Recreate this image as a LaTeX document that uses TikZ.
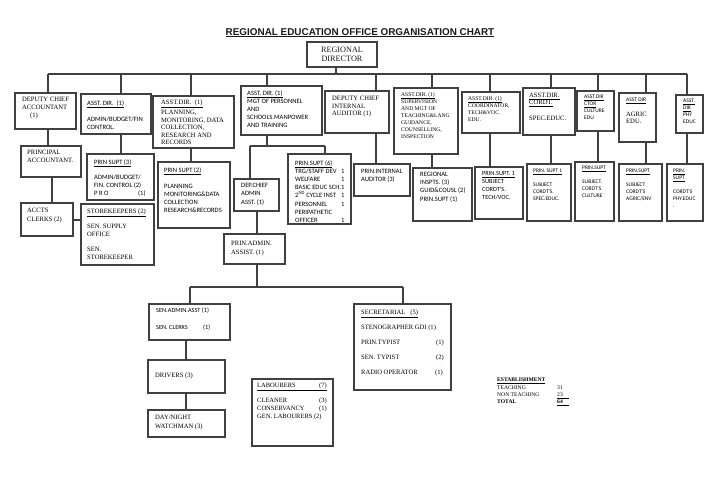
\documentclass[tikz,border=0pt]{standalone}
\usepackage{fontspec}
\setmainfont{Liberation Serif}
\newfontfamily\carl{Carlito}
\newfontfamily\arl{Liberation Sans}
\usetikzlibrary{fit}
\newcommand\bxn[5]{\node[bx, fit={(#2,#3)(#4,#5)}] (#1) {};}
\begin{document}
\begin{tikzpicture}[x=1pt,y=-1pt,
  bx/.style={draw=black!75, line width=1.1pt, inner sep=0pt},
  ln/.style={draw=black!75, line width=1.1pt},
  tx/.style={inner sep=0pt, anchor=north west, align=left, text=black},
  sf/.style={tx, font=\carl\fontsize{6.6}{8.2}\selectfont},
  sfs/.style={tx, font=\carl\fontsize{5.5}{7}\selectfont},
  rm/.style={tx, font=\fontsize{6.6}{7.6}\selectfont},
  rms/.style={tx, font=\fontsize{5.6}{7}\selectfont}]
\useasboundingbox (0,0) rectangle (720,490);
\fill[white] (0,0) rectangle (720,490);

% title
\node[inner sep=0pt, anchor=base, font=\arl\bfseries\fontsize{9.9}{12}\selectfont, text=black!90] (title) at (360,35) {\underline{REGIONAL EDUCATION OFFICE ORGANISATION CHART}};

% boxes
\bxn{rd}{307}{42}{377}{67}
\bxn{dca}{15}{93}{76}{129}
\bxn{adm}{81}{94}{151}{134}
\bxn{pln}{153}{96}{234}{148}
\bxn{mgt}{241}{86}{322}{135}
\bxn{aud}{325}{91}{389}{133}
\bxn{sup}{394}{88}{458}{154}
\bxn{crd}{462}{92}{520}{133}
\bxn{spc}{523}{88}{575}{135}
\bxn{cul}{577}{91}{614}{131}
\bxn{agr}{619}{93}{656}{142}
\bxn{phy}{676}{95}{703}{133}
\bxn{pa}{21}{146}{81}{177}
\bxn{acc}{21}{203}{73}{236}
\bxn{ps3}{87}{154}{154}{200}
\bxn{stk}{81}{204}{154}{265}
\bxn{ps2}{158}{162}{230}{228}
\bxn{dep}{234}{179}{279}{211}
\bxn{ps6}{288}{154}{351}{224}
\bxn{pia}{354}{164}{410}{196}
\bxn{ri}{413}{168}{472}{221}
\bxn{pst}{475}{167}{523}{219}
\bxn{pss}{527}{164}{571}{221}
\bxn{psc}{575}{162}{614}{221}
\bxn{psa}{619}{164}{662}{221}
\bxn{psp}{667}{164}{703}{221}
\bxn{paa}{224}{234}{285}{264}
\bxn{saa}{149}{304}{230}{340}
\bxn{sec}{354}{304}{451}{390}
\bxn{drv}{148}{360}{225}{393}
\bxn{wat}{148}{410}{225}{437}
\bxn{lab}{252}{379}{333}{446}

% texts
\node[inner sep=0pt, align=center, text=black!90, font=\fontsize{8.2}{9.5}\selectfont] (t-rd) at (rd.center) {REGIONAL\\DIRECTOR};
\node[rm, font=\fontsize{6.6}{8}\selectfont] (t-dca) at (22,97) {DEPUTY CHIEF\\ACCOUNTANT\\\hspace*{8pt}(1)};
\node[sf] (t-adm) at (87,100) {\underline{ASST. DIR.~~(1)}\\[8pt]ADMIN/BUDGET/FIN\\CONTROL.};
\node[rm] (t-pln) at (161,100) {\underline{ASST.DIR.~~(1)}\\[1pt]PLANNING,\\MONITORING, DATA\\COLLECTION,\\RESEARCH AND\\RECORDS};
\node[rm, font=\fontsize{6.6}{8}\selectfont] (t-pa) at (27,150) {PRINCIPAL\\ACCOUNTANT.};
\node[sf] (t-ps3) at (94,159) {\underline{PRIN SUPT (3)}\\[7pt]ADMIN/BUDGET/\\FIN. CONTROL (2)\\\makebox[44pt][l]{P R O}(1)};
\node[sf] (t-ps2) at (164,167) {\underline{PRIN SUPT (2)}\\[8pt]PLANNING\\MONITORING\&DATA\\COLLECTION\\RESEARCH\&RECORDS};
\node[rm, font=\fontsize{6.6}{8.6}\selectfont] (t-acc) at (27,208) {ACCTS\\CLERKS (2)};
\node[rm, font=\fontsize{6.6}{8}\selectfont] (t-stk) at (87,209) {\underline{STOREKEEPERS (2)}\\[7pt]SEN. SUPPLY\\OFFICE\\[7pt]SEN.\\STOREKEEPER};
\node[sf] (t-mgt) at (247,90) {\underline{ASST. DIR. (1)}\\MGT OF PERSONNEL\\AND\\SCHOOLS.MANPOWER\\AND TRAINING};
\node[rm] (t-aud) at (332,96) {DEPUTY CHIEF\\INTERNAL\\AUDITOR (1)};
\node[rms] (t-sup) at (401,92) {\underline{ASST.DIR. (1)}\\SUPERVISION\\AND MGT OF\\TEACHING\&LANG\\GUIDANCE,\\COUNSELLING,\\INSPECTION};
\node[sf, font=\carl\fontsize{6.6}{8.5}\selectfont] (t-dep) at (241,183) {DEP.CHIEF\\ADMIN\\ASST. (1)};
\node[sf] (t-ps6) at (295,160) {\underline{PRIN.SUPT (6)}\\\makebox[46pt][l]{TRG/STAFF DEV}1\\\makebox[46pt][l]{WELFARE}1\\BASIC EDUC SCH.1\\\makebox[46pt][l]{2\textsuperscript{ND} CYCLE INST}1\\\makebox[46pt][l]{PERSONNEL}1\\PERIPATHETIC\\\makebox[46pt][l]{OFFICER}1};
\node[sf] (t-pia) at (361,169) {PRIN.INTERNAL\\AUDITOR (3)};
\node[sf] (t-ri) at (420,172) {REGIONAL\\INSPTS. (3)\\GUID\&COUSL (2)\\PRIN.SUPT (1)};
\node[rms] (t-crd) at (468,96) {\underline{ASST.DIR. (1)}\\COORDINATOR,\\TECH\&VOC.\\EDU.};
\node[rm, font=\fontsize{6.6}{7}\selectfont] (t-spc) at (529,93) {\underline{ASST.DIR.}\\\underline{CORDT.}\\[9pt]SPEC.EDUC.};
\node[sfs] (t-cul) at (584,95) {\underline{ASST.DIR}\\\underline{CTOR}\\CULTURE\\EDU};
\node[rm, font=\fontsize{6.6}{7.5}\selectfont] (t-agr) at (626,98) {{\carl\fontsize{5.5}{7}\selectfont\underline{ASST DIR}}\\[7pt]AGRIC\\EDU.};
\node[sfs] (t-phy) at (683,99) {\underline{ASST.}\\\underline{DIR}\\PHY\\EDUC};
\node[sf, font=\carl\fontsize{6.3}{8.2}\selectfont] (t-pst) at (482,171) {\underline{PRIN.SUPT. 1}\\SUBJECT\\CORDT'S.\\TECH/VOC.};
\node[sfs] (t-pss) at (533,169) {\underline{PRIN. SUPT 1}\\[7pt]SUBJECT\\CORDT'S.\\SPEC.EDUC.};
\node[sfs] (t-psc) at (582,166) {\underline{PRIN.SUPT}\\[7pt]SUBJECT.\\CORDT'S\\CULTURE};
\node[sfs] (t-psa) at (626,169) {\underline{PRIN.SUPT}\\[7pt]SUBJECT\\CORDT'S\\AGRIC/ENV};
\node[sfs] (t-psp) at (673,169) {\underline{PRIN.}\\\underline{SUPT}\\[7pt]CORDT'S\\PHY.EDUC\\.};
\node[rm, font=\fontsize{6.6}{9}\selectfont] (t-paa) at (231,241) {PRIN.ADMIN.\\ASSIST. (1)};
\node[sf, font=\carl\fontsize{6.3}{8}\selectfont] (t-saa) at (156,308) {SEN.ADMIN.ASST (1)\\[9pt]\makebox[47pt][l]{SEN. CLERKS}(1)};
\node[rm, font=\fontsize{6.6}{15}\selectfont] (t-sec) at (361,310) {\underline{SECRETARIAL~~~(5)}\\STENOGRAPHER GDI (1)\\\makebox[75pt][l]{PRIN.TYPIST}(1)\\\makebox[75pt][l]{SEN. TYPIST}(2)\\\makebox[74pt][l]{RADIO OPERATOR}(1)};
\node[rm] (t-drv) at (155,373) {DRIVERS (3)};
\node[rm, font=\fontsize{6.6}{9}\selectfont] (t-wat) at (155,415) {DAY/NIGHT\\WATCHMAN (3)};
\node[rm, font=\fontsize{6.5}{8}\selectfont] (t-lab) at (257,383) {\underline{\makebox[62pt][l]{LABOURERS}(7)}\\[7pt]\makebox[62pt][l]{CLEANER}(3)\\\makebox[62pt][l]{CONSERVANCY}(1)\\GEN. LABOURERS (2)};
\node[rms, font=\fontsize{5.6}{7.2}\selectfont] (t-est) at (497,378) {\textbf{\underline{ESTABLISHMENT}}\\\makebox[60pt][l]{TEACHING}31\\\makebox[60pt][l]{NON TEACHING}\underline{23\hspace{6pt}}\\\makebox[60pt][l]{\textbf{TOTAL}}\underline{\textbf{64}\hspace{6pt}}};

% connectors
\coordinate (j0) at (336,74);
\coordinate (j1) at (48,74);
\coordinate (j2) at (121,74);
\coordinate (j3) at (191,74);
\coordinate (j4) at (267,74);
\coordinate (j5) at (376,74);
\coordinate (j6) at (432,74);
\coordinate (j7) at (490,74);
\coordinate (j8) at (551,74);
\coordinate (j9) at (598,74);
\coordinate (j10) at (646,74);
\coordinate (j11) at (687,74);
\draw[ln] (j0 |- rd.south) -- (j0);
\draw[ln] (j1) -- (j11);
\draw[ln] (j1) -- (j1 |- dca.north);
\draw[ln] (j2) -- (j2 |- adm.north);
\draw[ln] (j3) -- (j3 |- pln.north);
\draw[ln] (j4) -- (j4 |- mgt.north);
\draw[ln] (j5) -- (j5 |- aud.north);
\draw[ln] (j6) -- (j6 |- sup.north);
\draw[ln] (j7) -- (j7 |- crd.north);
\draw[ln] (j8) -- (j8 |- spc.north);
\draw[ln] (j9) -- (j9 |- cul.north);
\draw[ln] (j10) -- (j10 |- agr.north);
\draw[ln] (j11) -- (j11 |- phy.north);

\draw[ln] (j1 |- dca.south) -- (j1 |- pa.north);
\draw[ln] (j2 |- adm.south) -- (j2 |- ps3.north);
\draw[ln] (j3 |- pln.south) -- (j3 |- ps2.north);
\draw[ln] (j5 |- aud.south) -- (j5 |- pia.north);
\draw[ln] (j6 |- sup.south) -- (j6 |- ri.north);
\draw[ln] (j7 |- crd.south) -- (j7 |- pst.north);
\draw[ln] (j8 |- spc.south) -- (j8 |- pss.north);
\draw[ln] (j9 |- cul.south) -- (j9 |- psc.north);
\draw[ln] (j10 |- agr.south) -- (j10 |- psa.north);
\draw[ln] (j11 |- phy.south) -- (j11 |- psp.north);

\coordinate (k1) at (52,190);
\draw[ln] (k1 |- pa.south) -- (k1 |- acc.north);
\coordinate (k2) at (80,220);
\draw[ln] (acc.east |- k2) -- (stk.west |- k2);

\coordinate (m1) at (267,146);
\coordinate (m2) at (250,146);
\coordinate (m3) at (325,146);
\draw[ln] (j4 |- mgt.south) -- (m1);
\draw[ln] (m2) -- (m3);
\draw[ln] (m2) -- (m2 |- dep.north);
\draw[ln] (m3) -- (m3 |- ps6.north);

\coordinate (n1) at (257,270);
\draw[ln] (n1 |- dep.south) -- (n1 |- paa.north);
\coordinate (b1) at (190,287);
\coordinate (b2) at (403,287);
\draw[ln] (n1 |- paa.south) -- (n1 |- b1);
\draw[ln] (b1) -- (b2);
\draw[ln] (b1) -- (b1 |- saa.north);
\draw[ln] (b2) -- (b2 |- sec.north);

\coordinate (d1) at (186,350);
\draw[ln] (d1 |- saa.south) -- (d1 |- drv.north);
\draw[ln] (d1 |- drv.south) -- (d1 |- wat.north);
\end{tikzpicture}
\end{document}
